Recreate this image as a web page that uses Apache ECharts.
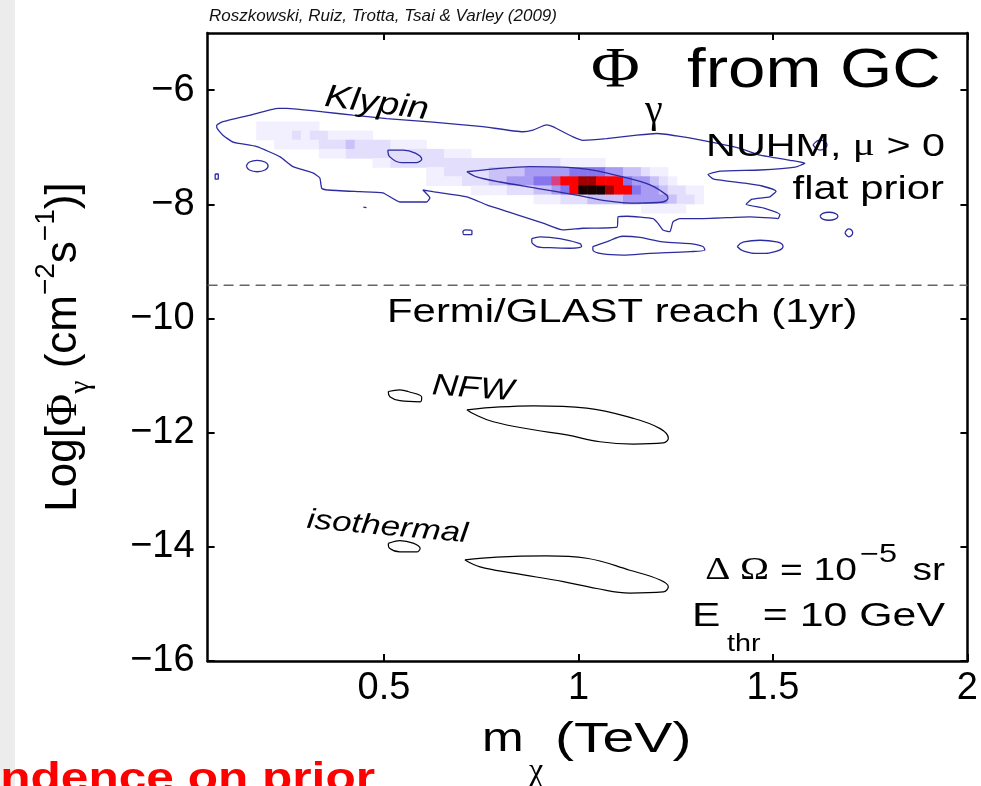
<!DOCTYPE html>
<html><head><meta charset="utf-8">
<script src="https://cdn.jsdelivr.net/npm/echarts@6/dist/echarts.min.js"></script>
<style>html,body{margin:0;padding:0;background:#fff;}#c{width:981px;height:786px;}</style>
</head><body><div id="c"></div>
<script>
// ---------- axes ----------
const xMin = 0.0465, xMax = 2, yMin = -16, yMax = -5;
const xTicks = [0.5, 1, 1.5, 2];
const yTicks = [-16, -14, -12, -10, -8, -6];
const fermiReach = -9.42;

// ---------- posterior density (Klypin), read cell by cell ----------
const heatX0 = 0.16, heatDX = 0.023, heatDY = 0.16;
const heatRowY = [-6.63, -6.79, -6.95, -7.11, -7.27, -7.43, -7.59, -7.75, -7.91, -8.07];
const heatRows = [
  "011111110000000000000000000000000000000000000000000",
  "011112122111110000000000000000000000000000000000000",
  "000111112223222211110000000000000000000000000000000",
  "000000001112222222222211100000000000000000000000000",
  "000000000000001122222222222222222221111100000000000",
  "000000000000000000001122222333344444555544332110000",
  "000000000000000000001111222334445567788777544321000",
  "000000000000000000000000011112223345799987754432211",
  "000000000000000000000000000000001112223333444443221",
  "000000000000000000000000000000000000000000001111100"
];
const heatColors = ['rgba(0,0,0,0)', '#f2f0fe', '#e2defc', '#c9c1f8', '#a79bf3', '#8676ee', '#d8407f', '#ff0000', '#a00000', '#1a0000'];

// ---------- contours (blue: Klypin) ----------
const klypinOuter = [[0.070,-6.61],[0.083,-6.56],[0.156,-6.44],[0.228,-6.32],[0.250,-6.32],[0.343,-6.38],[0.420,-6.44],[0.507,-6.50],[0.626,-6.56],[0.754,-6.64],[0.857,-6.73],[0.883,-6.70],[0.918,-6.61],[0.934,-6.64],[0.986,-6.82],[1.012,-6.88],[1.072,-6.85],[1.150,-6.79],[1.201,-6.76],[1.269,-6.82],[1.355,-6.93],[1.415,-7.02],[1.467,-7.14],[1.544,-7.23],[1.582,-7.28],[1.557,-7.35],[1.467,-7.40],[1.364,-7.42],[1.333,-7.48],[1.348,-7.56],[1.428,-7.63],[1.472,-7.68],[1.508,-7.77],[1.492,-7.87],[1.446,-7.91],[1.431,-8.00],[1.479,-8.07],[1.518,-8.18],[1.513,-8.25],[1.441,-8.22],[1.320,-8.25],[1.261,-8.25],[1.243,-8.31],[1.235,-8.48],[1.217,-8.45],[1.204,-8.33],[1.192,-8.25],[1.125,-8.21],[1.102,-8.22],[1.099,-8.40],[1.012,-8.42],[0.960,-8.45],[0.909,-8.33],[0.841,-8.18],[0.764,-8.01],[0.713,-7.87],[0.626,-7.78],[0.600,-7.75],[0.618,-7.89],[0.610,-7.96],[0.541,-7.96],[0.497,-7.80],[0.438,-7.78],[0.356,-7.75],[0.340,-7.72],[0.335,-7.54],[0.317,-7.45],[0.266,-7.34],[0.233,-7.17],[0.173,-6.99],[0.112,-6.91],[0.086,-6.79],[0.070,-6.65]];
const klypinInner = [[0.713,-7.43],[0.798,-7.37],[0.875,-7.34],[0.960,-7.35],[1.037,-7.40],[1.114,-7.52],[1.184,-7.66],[1.227,-7.84],[1.230,-7.90],[1.217,-7.96],[1.150,-7.98],[1.063,-7.93],[0.995,-7.84],[0.893,-7.72],[0.798,-7.61],[0.738,-7.52]];
const klypinIslandA = [[0.510,-7.05],[0.549,-7.05],[0.597,-7.21],[0.584,-7.27],[0.545,-7.27],[0.515,-7.17]];
const klypinIslandB = [[0.146,-7.33],[0.154,-7.26],[0.174,-7.23],[0.194,-7.26],[0.202,-7.33],[0.194,-7.40],[0.174,-7.43],[0.154,-7.40]];
const klypinIslandC = [[0.066,-7.47],[0.074,-7.47],[0.074,-7.56],[0.066,-7.56]];
const klypinIslandD = [[0.447,-8.05],[0.455,-8.06]];
const klypinIslandE = [[0.703,-8.47],[0.710,-8.45],[0.726,-8.46],[0.726,-8.53],[0.705,-8.53]];
const klypinIslandF = [[0.880,-8.60],[0.901,-8.57],[0.952,-8.60],[1.004,-8.69],[1.008,-8.74],[0.978,-8.77],[0.927,-8.76],[0.893,-8.74],[0.880,-8.66]];
const klypinIslandG = [[1.037,-8.74],[1.072,-8.66],[1.114,-8.56],[1.158,-8.58],[1.217,-8.66],[1.287,-8.69],[1.320,-8.74],[1.325,-8.80],[1.287,-8.83],[1.184,-8.86],[1.114,-8.89],[1.063,-8.87],[1.037,-8.80]];
const klypinIslandH = [[1.408,-8.74],[1.425,-8.66],[1.467,-8.63],[1.510,-8.66],[1.526,-8.74],[1.510,-8.82],[1.467,-8.86],[1.425,-8.82]];
const klypinIslandI = [[1.621,-8.21],[1.628,-8.16],[1.644,-8.14],[1.660,-8.16],[1.667,-8.21],[1.660,-8.26],[1.644,-8.28],[1.628,-8.26]];
const klypinIslandJ = [[1.685,-8.50],[1.695,-8.43],[1.705,-8.50],[1.695,-8.57]];
const klypinIslandK = [[1.603,-6.96],[1.621,-6.875],[1.639,-6.96],[1.621,-7.05]];

// ---------- contours (black: NFW and isothermal) ----------
const nfwSmall = [[0.511,-11.28],[0.541,-11.25],[0.562,-11.28],[0.597,-11.38],[0.593,-11.46],[0.541,-11.44],[0.515,-11.37]];
const nfwMain = [[0.713,-11.60],[0.798,-11.55],[0.884,-11.53],[1.021,-11.57],[1.141,-11.75],[1.210,-11.93],[1.231,-12.10],[1.218,-12.18],[1.141,-12.20],[1.055,-12.16],[0.970,-12.04],[0.884,-11.95],[0.781,-11.81],[0.730,-11.67]];
const isoSmall = [[0.511,-13.94],[0.541,-13.89],[0.593,-14.03],[0.584,-14.09],[0.541,-14.09],[0.515,-14.03]];
const isoMain = [[0.708,-14.23],[0.790,-14.18],[0.918,-14.16],[1.021,-14.20],[1.132,-14.41],[1.210,-14.58],[1.231,-14.70],[1.218,-14.79],[1.132,-14.81],[1.047,-14.73],[0.961,-14.61],[0.832,-14.46],[0.747,-14.35]];

// ---------- build ----------
const heatData = [];
heatRows.forEach((row, j) => {
  for (let i = 0; i < row.length; i++) {
    const v = +row[i];
    if (v > 0) heatData.push([heatX0 + i * heatDX, heatRowY[j], v]);
  }
});

const BLUE = '#2c2ca0';
function contour(pts, color, width, smooth) {
  return {
    type: 'line', data: pts.concat([pts[0]]), symbol: 'none', showSymbol: false,
    smooth: smooth, silent: true, animation: false, z: 4,
    lineStyle: { color: color, width: width }
  };
}

const SANS = '"Liberation Sans", Arial, Helvetica, sans-serif';
const SERIF = '"Liberation Serif", "Times New Roman", serif';

function txt(x, y, text, o) {
  o = o || {};
  return {
    type: 'text', x: x, y: y, rotation: o.rot || 0, scaleX: o.sx || 1, scaleY: o.sy || 1, z: 100,
    style: {
      text: text, fill: o.color || '#000',
      fontSize: o.size || 30, fontFamily: o.family || SANS,
      fontStyle: o.italic ? 'italic' : 'normal', fontWeight: o.bold ? 'bold' : 'normal',
      textAlign: o.align || 'left', textVerticalAlign: o.va || 'middle',
      align: o.align || 'left', verticalAlign: o.va || 'middle',
      rich: o.rich
    }
  };
}

const axisCommon = {
  type: 'value', min: xMin, max: xMax,
  axisLine: { show: true, onZero: false, lineStyle: { color: '#000', width: 2.5 } },
  splitLine: { show: false }
};

const chart = echarts.init(document.getElementById('c'));
chart.setOption({
  animation: false,
  backgroundColor: '#fff',
  grid: { left: 207.6, right: 13.5, top: 33, bottom: 125, containLabel: false },
  xAxis: [
    Object.assign({}, axisCommon, {
      position: 'bottom',
      axisTick: { show: true, inside: true, length: 7, customValues: xTicks, lineStyle: { color: '#000', width: 2 } },
      axisLabel: { show: true, customValues: xTicks, margin: 9, fontSize: 38, fontFamily: SANS, color: '#000',
        formatter: v => String(v) }
    }),
    Object.assign({}, axisCommon, {
      position: 'top',
      axisTick: { show: true, inside: true, length: 7, customValues: xTicks, lineStyle: { color: '#000', width: 2 } },
      axisLabel: { show: false }
    })
  ],
  yAxis: [
    {
      type: 'value', min: yMin, max: yMax, position: 'left',
      axisLine: { show: true, onZero: false, lineStyle: { color: '#000', width: 2.5 } },
      splitLine: { show: false },
      axisTick: { show: true, inside: true, length: 7, customValues: yTicks, lineStyle: { color: '#000', width: 2 } },
      axisLabel: { show: true, customValues: yTicks, margin: 13, fontSize: 38, fontFamily: SANS, color: '#000',
        formatter: v => (v < 0 ? '\u2212' : '') + Math.abs(v) }
    },
    {
      type: 'value', min: yMin, max: yMax, position: 'right',
      axisLine: { show: true, onZero: false, lineStyle: { color: '#000', width: 2.5 } },
      splitLine: { show: false },
      axisTick: { show: true, inside: true, length: 7, customValues: yTicks, lineStyle: { color: '#000', width: 2 } },
      axisLabel: { show: false }
    }
  ],
  series: [
    {
      type: 'custom', data: heatData, clip: true, silent: true, z: 2,
      encode: { x: 0, y: 1 },
      renderItem: function (params, api) {
        const x = api.value(0), y = api.value(1), lvl = api.value(2);
        const p0 = api.coord([x - heatDX / 2, y + heatDY / 2]);
        const p1 = api.coord([x + heatDX / 2, y - heatDY / 2]);
        return { type: 'rect', shape: { x: p0[0], y: p0[1], width: p1[0] - p0[0] + 0.6, height: p1[1] - p0[1] + 0.6 },
          style: { fill: heatColors[lvl] } };
      }
    },
    {
      type: 'line', data: [[xMin, fermiReach], [xMax, fermiReach]], symbol: 'none', silent: true, z: 3,
      lineStyle: { color: '#666', width: 1.5, type: [10, 6] }
    },
    contour(klypinOuter, BLUE, 1.3, 0.15),
    contour(klypinInner, BLUE, 1.3, 0.3),
    contour(klypinIslandA, BLUE, 1.3, 0.4),
    contour(klypinIslandB, BLUE, 1.3, 0.5),
    contour(klypinIslandC, BLUE, 1.3, 0),
    contour(klypinIslandD, BLUE, 1.3, 0),
    contour(klypinIslandE, BLUE, 1.3, 0.4),
    contour(klypinIslandF, BLUE, 1.3, 0.3),
    contour(klypinIslandG, BLUE, 1.3, 0.3),
    contour(klypinIslandH, BLUE, 1.3, 0.5),
    contour(klypinIslandI, BLUE, 1.3, 0.5),
    contour(klypinIslandJ, BLUE, 1.3, 0.5),
    contour(klypinIslandK, BLUE, 1.3, 0.5),
    contour(nfwSmall, '#000', 1.2, 0.4),
    contour(nfwMain, '#000', 1.2, 0.4),
    contour(isoSmall, '#000', 1.2, 0.4),
    contour(isoMain, '#000', 1.2, 0.4)
  ],
  graphic: [
    { type: 'rect', shape: { x: 0, y: 0, width: 15, height: 786 }, style: { fill: '#ececec' }, z: 0 },
    txt(209, 16, 'Roszkowski, Ruiz, Trotta, Tsai & Varley (2009)', { size: 17, italic: true, color: '#111' }),
    txt(591, 72, '\u03A6', { size: 58, family: SERIF, sx: 1.15 }),
    txt(645, 111, '\u03B3', { size: 40, family: SERIF }),
    txt(687, 72, 'from GC', { size: 56, sx: 1.2 }),
    txt(325, 97, 'Klypin', { size: 32, italic: true, sx: 1.2, rot: -0.13 }),
    txt(945, 147, 'NUHM, {g|\u03BC} > 0', { size: 32, align: 'right', sx: 1.29,
      rich: { g: { fontSize: 32, fontFamily: SERIF } } }),
    txt(944, 190, 'flat prior', { size: 33, align: 'right', sx: 1.27 }),
    txt(387, 313, 'Fermi/GLAST reach (1yr)', { size: 33, sx: 1.27 }),
    txt(432, 386, 'NFW', { size: 30, italic: true, sx: 1.2, rot: -0.07 }),
    txt(307, 520, 'isothermal', { size: 28, italic: true, sx: 1.25, rot: -0.09 }),
    txt(857, 571, '{g|\u0394 \u03A9} = 10', { size: 32, align: 'right', sx: 1.22,
      rich: { g: { fontSize: 32, fontFamily: SERIF } } }),
    txt(860, 555, '\u22125', { size: 25, sx: 1.3 }),
    txt(945, 571, 'sr', { size: 32, align: 'right', sx: 1.22 }),
    txt(692, 617, 'E', { size: 34, sx: 1.25 }),
    txt(727, 645, 'thr', { size: 23, sx: 1.25 }),
    txt(945, 617, '= 10 GeV', { size: 34, align: 'right', sx: 1.26 }),
    txt(482, 740, 'm', { size: 40, sx: 1.25 }),
    txt(529, 772, '\u03C7', { size: 32, family: SERIF }),
    txt(555, 740, '(TeV)', { size: 42, sx: 1.36 }),
    txt(64, 347, 'Log[{g|\u03A6}{sub|\u03B3} (cm{sup|\u22122}s{sup|\u22121})]', { size: 44, align: 'center', rot: Math.PI / 2,
      rich: {
        g: { fontSize: 44, fontFamily: SERIF, lineHeight: 64 },
        sub: { fontSize: 30, fontFamily: SERIF, verticalAlign: 'bottom', lineHeight: 30 },
        sup: { fontSize: 28, fontFamily: SANS, verticalAlign: 'top', lineHeight: 28 }
      } }),
    txt(375, 800, 'Dependence on prior', { size: 40, bold: true, color: '#ff0000', align: 'right', sx: 1.24, va: 'bottom' })
  ]
});
</script></body></html>
